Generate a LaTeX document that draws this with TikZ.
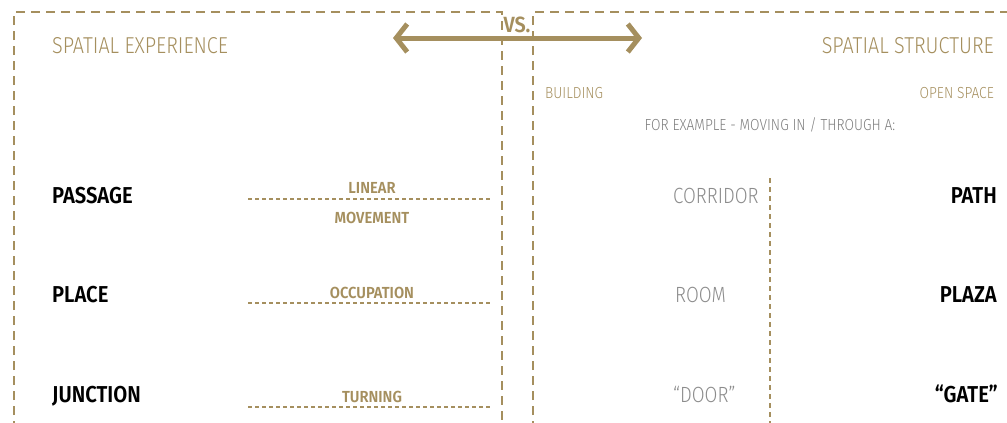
\documentclass[tikz,border=0pt]{standalone}
\usepackage{fontspec}
\usetikzlibrary{arrows.meta}
\newfontfamily\lightf{Fira Sans Light}[FakeStretch=0.86]
\newfontfamily\lightg{Fira Sans Light}[FakeStretch=0.845]
\newfontfamily\lights{Fira Sans Light}[FakeStretch=0.86]
\newfontfamily\boldf{Fira Sans SemiBold}[FakeStretch=0.88]
\newfontfamily\boldl{Fira Sans SemiBold}[FakeStretch=0.92]
\newfontfamily\boldv{Fira Sans SemiBold}[FakeStretch=0.9]
\definecolor{tan}{HTML}{A58F5E}
\definecolor{greyt}{HTML}{8C8C8C}
\tikzset{
  boxline/.style={draw=tan, line width=2.7pt, dash pattern=on 9pt off 6pt},
  dotline/.style={draw=tan, line width=2pt, dash pattern=on 4pt off 3pt},
  title/.style={font=\lightf\fontsize{23}{23}\selectfont, text=tan, inner sep=0pt, anchor=base west},
  small/.style={font=\lights\fontsize{16}{16}\selectfont, text=tan, inner sep=0pt},
  term/.style={font=\boldf\fontsize{23}{23}\selectfont, text=black, inner sep=0pt, anchor=base west},
  grey/.style={font=\lightg\fontsize{22}{22}\selectfont, text=greyt, inner sep=0pt, anchor=base west},
  lbl/.style={font=\boldl\fontsize{16}{16}\selectfont, text=tan, inner sep=0pt, anchor=base},
}
\begin{document}
\begin{tikzpicture}[x=1pt,y=-1pt]
\useasboundingbox (0,0) rectangle (1007,423);
% boxes
\draw[boxline] (14,430) -- (14,12) -- (502,12) -- (502,430);
\draw[boxline] (533,430) -- (533,12) -- (1015,12);
\node[font=\boldv\fontsize{22}{22}\selectfont, text=tan, inner sep=0pt, anchor=base] (vs) at (517,32) {VS.};
% arrow
\coordinate (al) at (393,38);
\coordinate (ar) at (642,38);
\draw[tan, line width=5pt, {Straight Barb[length=11pt,width=28pt,line width=5pt]}-{Straight Barb[length=11pt,width=28pt,line width=5pt]}] (al) -- (ar);
% titles
\node[title] (se) at (52,53) {SPATIAL EXPERIENCE};
\node[title, anchor=base east] (ss) at (994,53) {SPATIAL STRUCTURE};
\node[small, anchor=base west] (bu) at (545,98) {BUILDING};
\node[small, anchor=base east] (os) at (994,98) {OPEN SPACE};
\node[small, anchor=base, text=greyt!90!black] (fe) at (770,130) {FOR EXAMPLE - MOVING IN / THROUGH A:};
% left terms
\node[term] (passage) at (52,203) {PASSAGE};
\node[term] (place) at (52,302) {PLACE};
\node[term] (junction) at (52,402) {JUNCTION};
% dotted lines
\coordinate (l1a) at (248,199); \coordinate (l1b) at (490,199);
\coordinate (l2a) at (248,303); \coordinate (l2b) at (490,303);
\coordinate (l3a) at (248,407); \coordinate (l3b) at (490,407);
\draw[dotline] (l1a) -- (l1b);
\draw[dotline] (l2a) -- (l2b);
\draw[dotline] (l3a) -- (l3b);
\node[lbl] (linear) at (372,193) {LINEAR};
\node[lbl] (movement) at (372,223) {MOVEMENT};
\node[lbl] (occ) at (372,298) {OCCUPATION};
\node[lbl] (turn) at (372,402) {TURNING};
% right side
\node[grey] (corr) at (673,203) {CORRIDOR};
\node[grey] (room) at (675,302) {ROOM};
\node[grey] (door) at (673,402) {“DOOR”};
\coordinate (va) at (770,178); \coordinate (vb) at (770,430);
\draw[dotline, dash pattern=on 5pt off 4pt] (va) -- (vb);
\node[term, anchor=base east] (path) at (997,203) {PATH};
\node[term, anchor=base east] (plaza) at (997,302) {PLAZA};
\node[term, anchor=base east] (gate) at (998,402) {“GATE”};
\end{tikzpicture}
\end{document}
